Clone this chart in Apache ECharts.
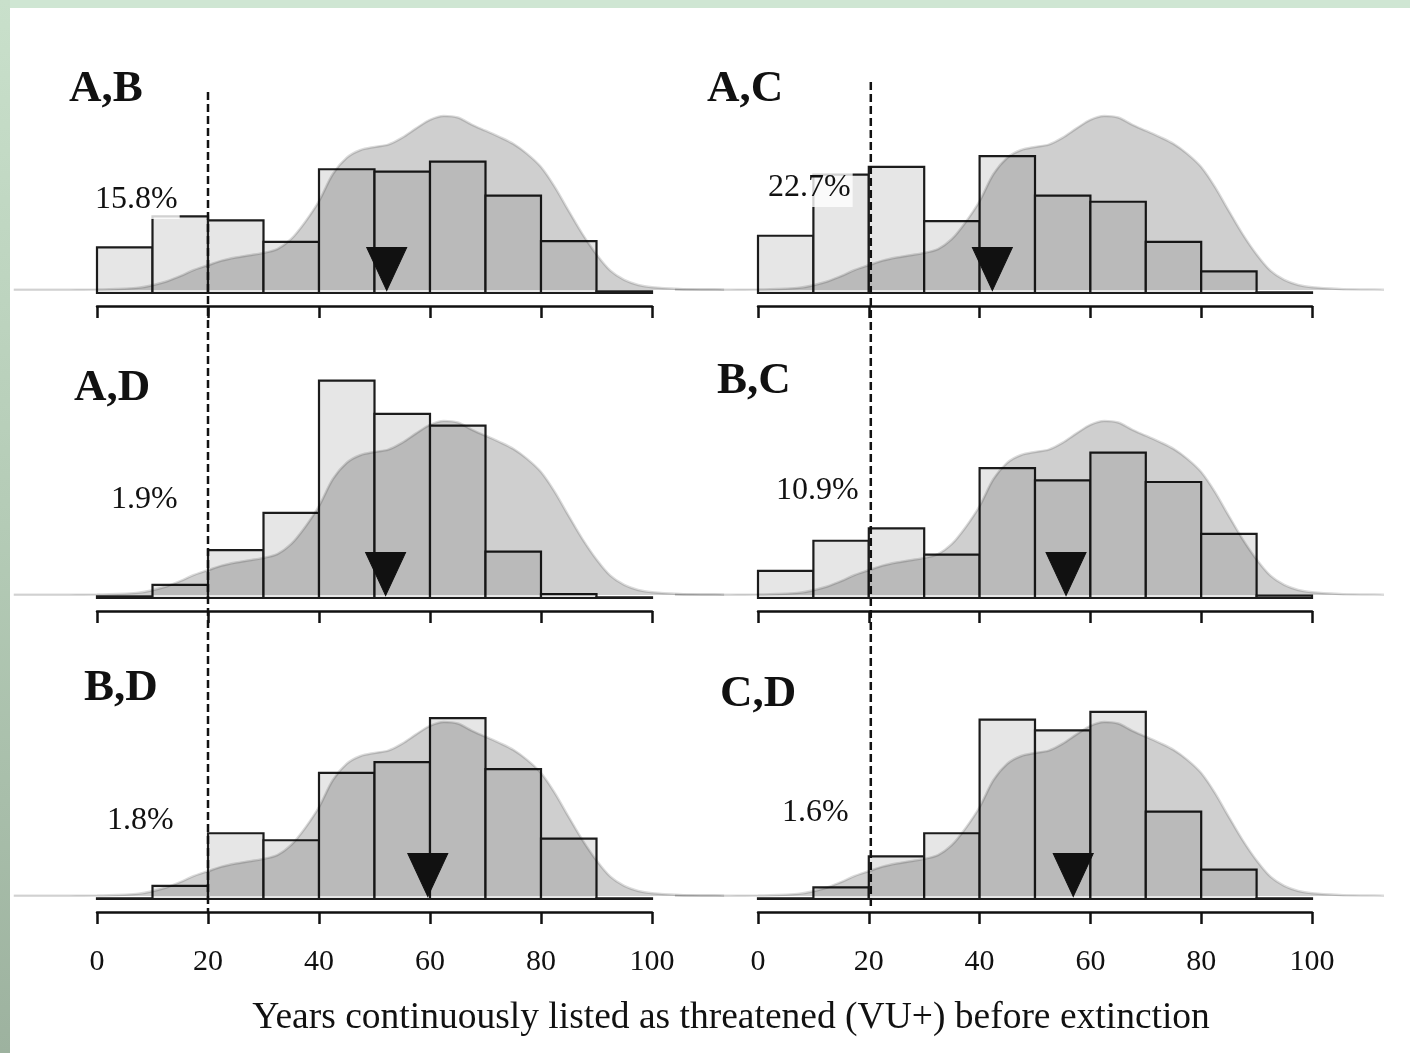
<!DOCTYPE html>
<html>
<head>
<meta charset="utf-8">
<script src="https://cdn.jsdelivr.net/npm/echarts@6/dist/echarts.min.js"></script>
<style>
  html, body { margin: 0; padding: 0; background: #ffffff; }
  #page { position: relative; width: 1410px; height: 1053px; background: #ffffff; overflow: hidden; }
  #edgeTop { position: absolute; left: 0; top: 0; width: 1410px; height: 8px; background: #cfe6d3; }
  #edgeLeft { position: absolute; left: 0; top: 0; width: 10px; height: 1053px;
              background: linear-gradient(to bottom, #c9e0cb 0%, #b4cbb6 50%, #9db29f 100%); }
  #chart { position: absolute; left: 0; top: 0; width: 1410px; height: 1053px; }
</style>
</head>
<body>
<div id="page">
  <div id="edgeTop"></div>
  <div id="edgeLeft"></div>
  <div id="chart"></div>
</div>
<script>
// Histogram bins (years) shared by every panel
const binEdges = [0, 10, 20, 30, 40, 50, 60, 70, 80, 90, 100];
const xTicks = [0, 20, 40, 60, 80, 100];
const threshold = 20;

// Panel names and share of species (%) in each 10-year bin
const panelNames = ['A,B', 'A,C', 'A,D', 'B,C', 'B,D', 'C,D'];
const binsAB = [5.9, 9.9, 9.4, 6.6, 16.0, 15.7, 17.0, 12.6, 6.7, 0.2];
const binsAC = [7.4, 15.3, 16.3, 9.3, 17.7, 12.6, 11.8, 6.6, 2.8, 0.1];
const binsAD = [0.2, 1.7, 6.2, 11.0, 28.1, 23.8, 22.3, 6.0, 0.5, 0.1];
const binsBC = [3.5, 7.4, 9.0, 5.6, 16.8, 15.2, 18.8, 15.0, 8.3, 0.3];
const binsBD = [0.1, 1.7, 8.5, 7.6, 16.3, 17.7, 23.4, 16.8, 7.8, 0.1];
const binsCD = [0.1, 1.5, 5.5, 8.5, 23.2, 21.8, 24.2, 11.3, 3.8, 0.1];
const panelBins = [binsAB, binsAC, binsAD, binsBC, binsBD, binsCD];

// Median years (triangle markers)
const medians = [52.2, 42.3, 52.0, 55.6, 59.6, 56.9];

// Reference density (% per 10-year bin) of listing durations
const densityYears = [-15, -10, -5, 0, 5, 7.5, 10, 12.5, 15, 17.5, 20, 22.5, 25, 27.5, 30, 32.5, 35, 37.5,
  40, 42.5, 45, 47.5, 50, 52.5, 55, 57.5, 60, 62.5, 65, 67.5, 70, 72.5, 75, 77.5, 80, 82.5, 85, 87.5,
  90, 92.5, 95, 97.5, 100, 105, 110, 113];
const densityValues = [0.04, 0.04, 0.04, 0.05, 0.16, 0.28, 0.62, 1.1, 1.8, 2.6, 3.2, 3.8, 4.2, 4.5, 4.8, 5.3, 6.6, 8.8,
  11.5, 15.0, 17.1, 18.1, 18.5, 18.8, 19.7, 20.9, 22.0, 22.5, 22.3, 21.4, 20.6, 19.8, 18.9, 17.6, 15.9, 13.3, 10.2, 7.2,
  4.6, 2.5, 1.3, 0.65, 0.35, 0.13, 0.06, 0.04];
const densityRange = [-15, 113];

const axisTitle = 'Years continuously listed as threatened (VU+) before extinction';

// ---- layout ----
const colLeft = [97, 758];
const colWidth = [555, 554];
const rowBase = [293, 598, 899];
const yMax = 30;
const plotH = 232;
const densityLift = 3;
const serif = '"Liberation Serif", "Times New Roman", serif';

const grids = [], xAxes = [], yAxes = [], series = [];
panelBins.forEach((bins, i) => {
  const col = i % 2, row = Math.floor(i / 2);
  const base = rowBase[row];
  const pxPerYear = colWidth[col] / 100;
  // bar grid
  grids.push({ left: colLeft[col], width: colWidth[col], top: base - plotH, height: plotH });
  // density grid: same scale, wider year range, slightly raised baseline
  grids.push({
    left: colLeft[col] + densityRange[0] * pxPerYear,
    width: (densityRange[1] - densityRange[0]) * pxPerYear,
    top: base - densityLift - plotH, height: plotH
  });
  const g = i * 2;
  xAxes.push({
    type: 'value', gridIndex: g, min: 0, max: 100, interval: 20, position: 'bottom', offset: 13,
    axisLine: { show: true, onZero: false, lineStyle: { color: '#111', width: 2.5 } },
    axisTick: { show: true, inside: false, length: 12, lineStyle: { color: '#111', width: 2.5 } },
    axisLabel: { show: row === 2, margin: 35, color: '#111', fontFamily: serif, fontSize: 30,
                 showMinLabel: true, showMaxLabel: true },
    splitLine: { show: false }
  });
  xAxes.push({ type: 'value', gridIndex: g + 1, min: densityRange[0], max: densityRange[1], show: false, splitLine: { show: false } });
  yAxes.push({ type: 'value', gridIndex: g, min: 0, max: yMax, show: false, splitLine: { show: false } });
  yAxes.push({ type: 'value', gridIndex: g + 1, min: 0, max: yMax, show: false, splitLine: { show: false } });

  series.push({
    type: 'custom', xAxisIndex: g, yAxisIndex: g, z: 2, silent: true,
    data: bins.map((v, k) => [binEdges[k], binEdges[k + 1], v]),
    encode: { x: [0, 1], y: 2 },
    renderItem: function (params, api) {
      const p0 = api.coord([api.value(0), api.value(2)]);
      const p1 = api.coord([api.value(1), 0]);
      return {
        type: 'rect',
        shape: { x: p0[0], y: p0[1], width: p1[0] - p0[0], height: p1[1] - p0[1] },
        style: { fill: '#e6e6e6', stroke: '#1c1c1c', lineWidth: 2.2 }
      };
    }
  });
  series.push({
    type: 'line', xAxisIndex: g + 1, yAxisIndex: g + 1, z: 3, silent: true,
    smooth: 0.3, showSymbol: false, symbol: 'none',
    data: densityYears.map((x, k) => [x, densityValues[k]]),
    lineStyle: { color: 'rgba(0,0,0,0.14)', width: 2.5 },
    areaStyle: { color: 'rgba(0,0,0,0.19)', opacity: 1 }
  });
  series.push({
    type: 'scatter', xAxisIndex: g, yAxisIndex: g, z: 5, silent: true, clip: false,
    data: [[medians[i], 0]],
    symbol: 'triangle', symbolRotate: 180, symbolSize: [40, 43], symbolOffset: [0, -24],
    itemStyle: { color: '#111', borderColor: '#111', borderWidth: 1, opacity: 1 }
  });
});

const chart = echarts.init(document.getElementById('chart'), null, { renderer: 'canvas' });
chart.setOption({
  backgroundColor: 'transparent',
  animation: false,
  grid: grids, xAxis: xAxes, yAxis: yAxes, series: series
});

// ---- annotations ----
const pctPos = [[93, 200], [766, 188], [109, 500], [774, 491], [105, 821], [780, 813]];
const namePos = [[69, 89], [707, 89], [74, 388], [717, 381], [84, 688], [720, 694]];
const dashSpan = [[92, 912], [82, 906]];

const graphics = [];
panelBins.forEach((bins, i) => {
  const total = bins.reduce((a, b) => a + b, 0);
  const below = bins.filter((v, k) => binEdges[k + 1] <= threshold).reduce((a, b) => a + b, 0);
  const pct = (below / total * 100).toFixed(1) + '%';
  graphics.push({
    type: 'text', z: 20, silent: true,
    style: { text: pct, x: pctPos[i][0], y: pctPos[i][1], font: '32px ' + serif, fill: '#111',
             verticalAlign: 'middle', align: 'left', backgroundColor: 'rgba(255,255,255,0.8)', padding: [2, 2, 4, 2] }
  });
  graphics.push({
    type: 'text', z: 20, silent: true,
    style: { text: panelNames[i], x: namePos[i][0], y: namePos[i][1], font: 'bold 45px ' + serif, fill: '#111',
             verticalAlign: 'middle', align: 'left' }
  });
});
[0, 1].forEach(col => {
  const px = chart.convertToPixel({ xAxisIndex: col * 2 }, threshold) + col * 2;
  graphics.push({
    type: 'line', z: 15, silent: true,
    shape: { x1: px, y1: dashSpan[col][0], x2: px, y2: dashSpan[col][1] },
    style: { stroke: '#111', lineWidth: 2.5, lineDash: [8, 4] }
  });
});
graphics.push({
  type: 'text', z: 20, silent: true,
  style: { text: axisTitle, x: 731, y: 1018, font: '37.5px ' + serif, fill: '#111', align: 'center', verticalAlign: 'middle' }
});
chart.setOption({ graphic: graphics });
</script>
</body>
</html>
